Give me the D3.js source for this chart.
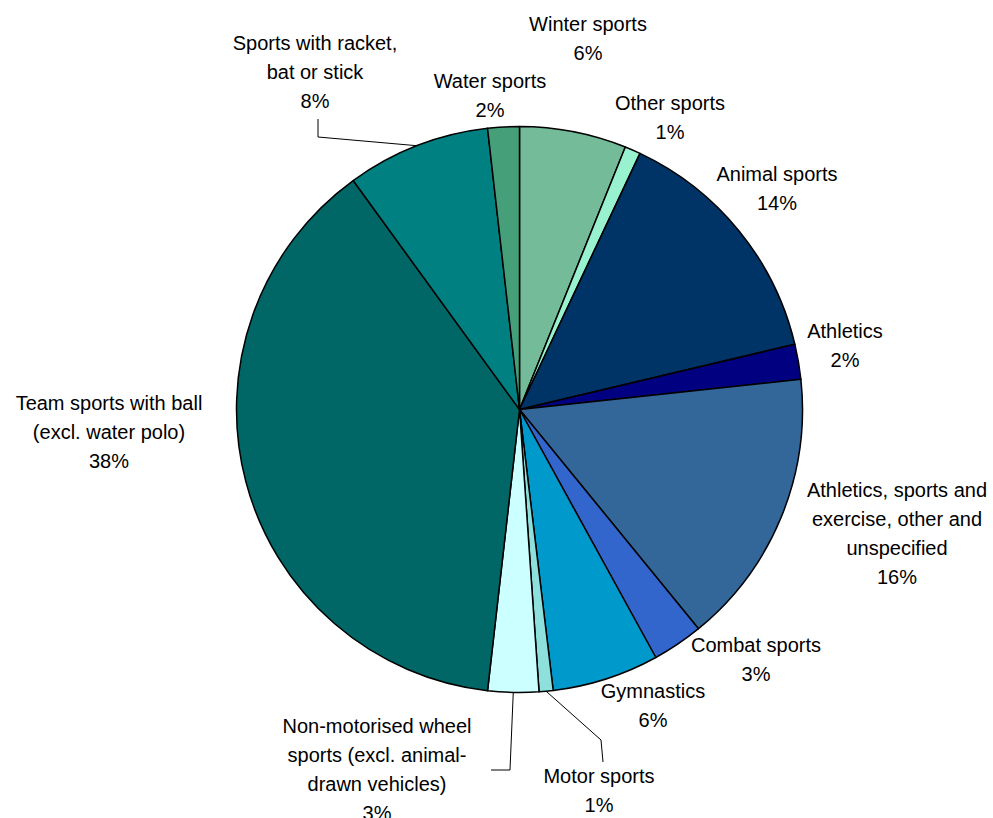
<!DOCTYPE html>
<html><head><meta charset="utf-8">
<script src="https://cdn.jsdelivr.net/npm/d3@7/dist/d3.min.js"></script>
<style>html,body{margin:0;padding:0;background:#fff;}svg{display:block;}</style>
</head><body>
<svg id="chart" width="993" height="818"></svg>
<script>
// Data (clockwise from 12 o'clock)
const categories = [
  "Winter sports", "Other sports", "Animal sports", "Athletics",
  "Athletics, sports and exercise, other and unspecified", "Combat sports",
  "Gymnastics", "Motor sports", "Non-motorised wheel sports (excl. animal-drawn vehicles)",
  "Team sports with ball (excl. water polo)", "Sports with racket, bat or stick", "Water sports"
];
const values = [6.1, 0.9, 14.3, 2.0, 15.8, 2.9, 6.1, 0.8, 2.9, 38.2, 8.2, 1.8];
const labelLines = [
  ["Winter sports"], ["Other sports"], ["Animal sports"], ["Athletics"],
  ["Athletics, sports and", "exercise, other and", "unspecified"], ["Combat sports"],
  ["Gymnastics"], ["Motor sports"], ["Non-motorised wheel", "sports (excl. animal-", "drawn vehicles)"],
  ["Team sports with ball", "(excl. water polo)"], ["Sports with racket,", "bat or stick"], ["Water sports"]
];
const colors = ["#73BB99", "#99F2CF", "#003366", "#000080", "#336699", "#3366CC",
                "#0099CC", "#8EE0DC", "#CCFFFF", "#006666", "#008080", "#45A07A"];

// Layout
const cx = 519.5, cy = 409.5, R = 283;
const labelPos = [ // [center x, first-line baseline]
  [588, 31], [670, 110], [777, 181], [845, 338], [897, 497], [756, 652],
  [653, 698], [599, 783], [377, 733], [109, 410], [315, 50], [490, 88]
];
const lineH = 29;
// leader lines: index -> elbow points (from label toward slice)
const leaders = {
  7: [[603, 762], [601, 740]],
  8: [[491, 770], [510, 770]],
  10: [[318, 119], [318, 137]]
};

const svg = d3.select("#chart");
const g = svg.append("g").attr("transform", `translate(${cx},${cy})`);
const pie = d3.pie().sort(null).value(d => d)(values);
const arc = d3.arc().innerRadius(0).outerRadius(R);

g.selectAll("path.slice").data(pie).join("path")
  .attr("class", "slice")
  .attr("d", arc)
  .attr("fill", (d, i) => colors[i])
  .attr("stroke", "#000").attr("stroke-width", 1.5).attr("stroke-linejoin", "round");

// leader lines
Object.keys(leaders).forEach(k => {
  const i = +k, d = pie[i];
  const a = (d.startAngle + d.endAngle) / 2;
  const edge = [cx + R * Math.sin(a), cy - R * Math.cos(a)];
  const pts = leaders[k].concat([edge]);
  svg.append("path")
    .attr("d", d3.line()(pts))
    .attr("fill", "none").attr("stroke", "#000").attr("stroke-width", 1);
});

// labels
const total = d3.sum(values);
categories.forEach((c, i) => {
  const lines = labelLines[i].concat([Math.round(values[i] / total * 100) + "%"]);
  const t = svg.append("text")
    .attr("text-anchor", "middle")
    .attr("font-family", "Arial, 'Liberation Sans', sans-serif")
    .attr("font-size", 20).attr("fill", "#000");
  lines.forEach((l, j) => {
    t.append("tspan").attr("x", labelPos[i][0]).attr("y", labelPos[i][1] + j * lineH).text(l);
  });
});
</script>
</body></html>
